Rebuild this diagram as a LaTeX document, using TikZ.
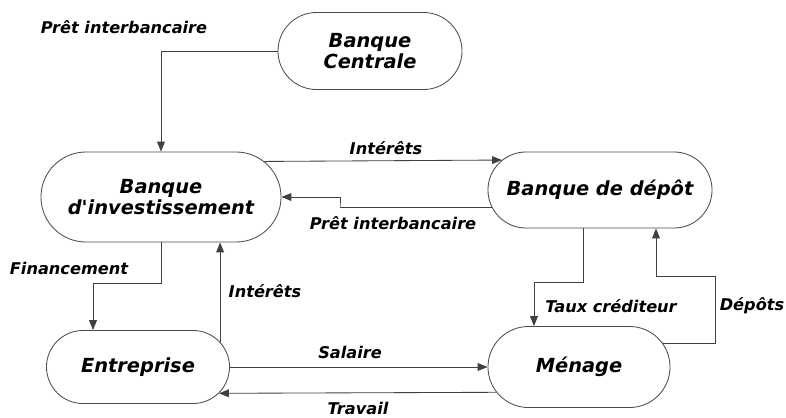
\documentclass[tikz,border=0pt]{standalone}
\usepackage{fontspec}
\setmainfont{DejaVu Sans}
\usetikzlibrary{arrows.meta,shapes.misc}

\begin{document}
\begin{tikzpicture}[x=0.025cm, y=-0.025cm,
  >={Triangle[length=7pt,width=5.5pt]},
  agent/.style={rounded rectangle, draw=black!70, fill=white, line width=0.6pt,
    align=center, inner sep=0pt, font=\fontsize{13.8}{15}\selectfont\bfseries\itshape},
  flow/.style={->, draw=black!75, line width=0.6pt},
  lbl/.style={font=\fontsize{11.5}{13}\selectfont\bfseries\itshape, inner sep=0pt},
]
\useasboundingbox (0,0) rectangle (786,417);

% ======================= Agents =======================
\node[agent, minimum width=4.6cm, minimum height=1.925cm] (bc) at (370,51) {Banque\\Centrale};
\node[agent, minimum width=6cm, minimum height=2.25cm] (bi) at (161,197) {Banque\\d\textquotesingle investissement};
\node[agent, minimum width=5.6cm, minimum height=1.9cm] (bd) at (600,190) {Banque de dépôt};
\node[agent, minimum width=4.575cm, minimum height=1.825cm] (ent) at (138,367) {Entreprise};
\node[agent, minimum width=4.55cm, minimum height=2.025cm] (men) at (579,367) {Ménage};

% ======================= Bend points =======================
\coordinate (jogP) at (340,208);
\coordinate (finK) at (93,283);
\coordinate (intK) at (219,0);
\coordinate (tauxA) at (583,282);
\coordinate (tauxK) at (534,282);
\coordinate (depA) at (715,342);
\coordinate (depB) at (715,276);
\coordinate (depC) at (656,276);

% ======================= Flows =======================
\draw[flow] (bc.west) -| (bi.north);
\node[lbl] (lPretA) at (124,27) {Prêt interbancaire};

\draw[flow] (bi.19.4) -- (bd.163.6);
\node[lbl] (lIntA) at (386,148) {Intérêts};

\draw[flow] (bd.189.5) -- (bd.189.5 -| jogP) -- (jogP) |- (bi.east);
\node[lbl] (lPretB) at (393,223) {Prêt interbancaire};

\draw[flow] (bi.south) |- (finK) -- (finK |- ent.north);
\node[lbl] (lFin) at (69,268) {Financement};

\draw[flow] (ent.17.8) -- (bi.south -| ent.17.8);
\node[lbl] (lIntB) at (265,291) {Intérêts};

\draw[flow] (ent.east) -- (men.west);
\node[lbl] (lSal) at (350,352) {Salaire};

\draw[flow] (men.197.7) -- (ent.342.2);
\node[lbl] (lTra) at (358,408) {Travail};

\draw[flow] (bd.south -| tauxA) -- (tauxA) -- (tauxK) -- (tauxK |- men.north);
\node[lbl] (lTaux) at (611,306) {Taux créditeur};

\draw[flow] (men.16.9) -- (men.16.9 -| depA) -- (depB) -- (depC) -- (depC |- bd.south);
\node[lbl] (lDep) at (752,306) {Dépôts};

\end{tikzpicture}
\end{document}
